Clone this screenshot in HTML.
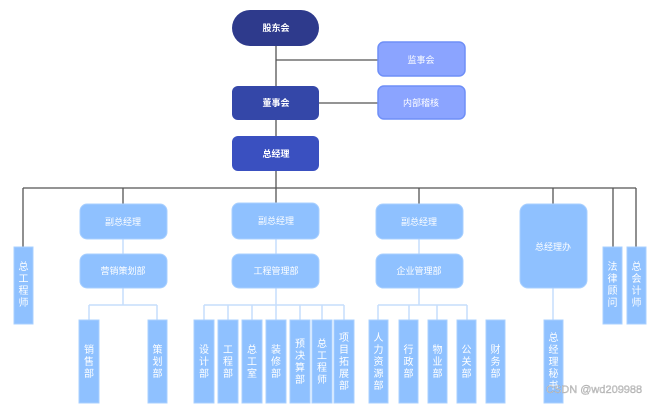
<!DOCTYPE html>
<html><head><meta charset="utf-8"><style>
html,body{margin:0;padding:0;background:#fff;}
svg{display:block;font-family:"Liberation Sans","Noto Sans CJK SC",sans-serif;}
.t{fill:#fff;font-size:9px;text-anchor:middle;dominant-baseline:central;}
.v{fill:#fff;font-size:10px;text-anchor:middle;dominant-baseline:central;}
.lb{fill:#8fc1ff;stroke:#a9d0ff;stroke-width:1;}
</style></head><body>
<svg width="661" height="407" viewBox="0 0 661 407">
<g stroke="#555" stroke-width="1.3" fill="none">
<line x1="276" y1="46" x2="276" y2="136"/>
<line x1="276" y1="60" x2="378" y2="60"/>
<line x1="319" y1="103" x2="378" y2="103"/>
<line x1="276" y1="171" x2="276" y2="188"/>
<line x1="23" y1="188" x2="636" y2="188"/>
<line x1="23" y1="188" x2="23" y2="247"/>
<line x1="123" y1="188" x2="123" y2="204"/>
<line x1="276" y1="188" x2="276" y2="203"/>
<line x1="419" y1="188" x2="419" y2="204"/>
<line x1="553" y1="188" x2="553" y2="204"/>
<line x1="613" y1="188" x2="613" y2="247"/>
<line x1="636" y1="188" x2="636" y2="247"/>
</g>
<g stroke="#c6defc" stroke-width="1.5" fill="none">
<line x1="123" y1="239" x2="123" y2="254"/>
<line x1="276" y1="239" x2="276" y2="254"/>
<line x1="419" y1="239" x2="419" y2="254"/>
<line x1="123" y1="288" x2="123" y2="305"/>
<line x1="89" y1="305" x2="157" y2="305"/>
<line x1="89" y1="305" x2="89" y2="320"/><line x1="157" y1="305" x2="157" y2="320"/>
<line x1="276" y1="288" x2="276" y2="305"/>
<line x1="204" y1="305" x2="344" y2="305"/>
<line x1="204" y1="305" x2="204" y2="320"/><line x1="228" y1="305" x2="228" y2="320"/><line x1="252" y1="305" x2="252" y2="320"/><line x1="276" y1="305" x2="276" y2="320"/><line x1="300" y1="305" x2="300" y2="320"/><line x1="322" y1="305" x2="322" y2="320"/><line x1="344" y1="305" x2="344" y2="320"/>
<line x1="419" y1="288" x2="419" y2="305"/>
<line x1="378" y1="305" x2="467" y2="305"/>
<line x1="378" y1="305" x2="378" y2="320"/><line x1="409" y1="305" x2="409" y2="320"/><line x1="437" y1="305" x2="437" y2="320"/><line x1="467" y1="305" x2="467" y2="320"/>
<line x1="553" y1="288" x2="553" y2="320"/>
</g>
<rect x="232" y="10" width="87" height="36" rx="18" fill="#2e3a8c"/>
<text class="t" x="276" y="28" font-weight="bold">股东会</text>
<rect x="232" y="86" width="87" height="34" rx="6" fill="#3447a8"/>
<text class="t" x="276" y="103" font-weight="bold">董事会</text>
<rect x="232" y="136" width="87" height="35" rx="6" fill="#3a50c0"/>
<text class="t" x="276" y="154" font-weight="bold">总经理</text>
<rect x="378" y="42" width="87" height="34" rx="6" fill="#8ba4ff" stroke="#6f8ff7" stroke-width="1.5"/>
<text class="t" x="421" y="60">监事会</text>
<rect x="378" y="86" width="87" height="33" rx="6" fill="#8ba4ff" stroke="#6f8ff7" stroke-width="1.5"/>
<text class="t" x="421" y="103">内部稽核</text>

<rect class="lb" x="80" y="204" width="87" height="35" rx="7"/><text class="t" x="123" y="222">副总经理</text>
<rect class="lb" x="232" y="203" width="87" height="36" rx="7"/><text class="t" x="276" y="221">副总经理</text>
<rect class="lb" x="376" y="204" width="87" height="35" rx="7"/><text class="t" x="419" y="222">副总经理</text>
<rect class="lb" x="80" y="254" width="87" height="34" rx="7"/><text class="t" x="123" y="271">营销策划部</text>
<rect class="lb" x="232" y="254" width="87" height="34" rx="7"/><text class="t" x="276" y="271">工程管理部</text>
<rect class="lb" x="376" y="254" width="87" height="34" rx="7"/><text class="t" x="419" y="271">企业管理部</text>
<rect class="lb" x="520" y="204" width="67" height="84" rx="8"/><text class="t" x="553" y="247">总经理办</text>

<rect class="lb" x="14" y="247" width="19" height="77"/>
<text class="v" x="23.5"><tspan x="23.5" y="267">总</tspan><tspan x="23.5" y="279">工</tspan><tspan x="23.5" y="291">程</tspan><tspan x="23.5" y="303">师</tspan></text>
<rect class="lb" x="603" y="247" width="19" height="77"/>
<text class="v"><tspan x="612.5" y="267">法</tspan><tspan x="612.5" y="279">律</tspan><tspan x="612.5" y="291">顾</tspan><tspan x="612.5" y="303">问</tspan></text>
<rect class="lb" x="627" y="247" width="19" height="77"/>
<text class="v"><tspan x="636.5" y="267">总</tspan><tspan x="636.5" y="279">会</tspan><tspan x="636.5" y="291">计</tspan><tspan x="636.5" y="303">师</tspan></text>

<rect class="lb" x="79" y="320" width="20" height="83"/>
<text class="v"><tspan x="89" y="350">销</tspan><tspan x="89" y="362">售</tspan><tspan x="89" y="374">部</tspan></text>
<rect class="lb" x="148" y="320" width="19" height="83"/>
<text class="v"><tspan x="157.5" y="350">策</tspan><tspan x="157.5" y="362">划</tspan><tspan x="157.5" y="374">部</tspan></text>

<rect class="lb" x="194" y="320" width="20" height="83"/>
<text class="v"><tspan x="204" y="350">设</tspan><tspan x="204" y="362">计</tspan><tspan x="204" y="374">部</tspan></text>
<rect class="lb" x="218" y="320" width="20" height="83"/>
<text class="v"><tspan x="228" y="350">工</tspan><tspan x="228" y="362">程</tspan><tspan x="228" y="374">部</tspan></text>
<rect class="lb" x="242" y="320" width="20" height="83"/>
<text class="v"><tspan x="252" y="350">总</tspan><tspan x="252" y="362">工</tspan><tspan x="252" y="374">室</tspan></text>
<rect class="lb" x="266" y="320" width="20" height="83"/>
<text class="v"><tspan x="276" y="350">装</tspan><tspan x="276" y="362">修</tspan><tspan x="276" y="374">部</tspan></text>
<rect class="lb" x="290" y="320" width="20" height="83"/>
<text class="v"><tspan x="300" y="344">预</tspan><tspan x="300" y="356">决</tspan><tspan x="300" y="368">算</tspan><tspan x="300" y="380">部</tspan></text>
<rect class="lb" x="312" y="320" width="20" height="83"/>
<text class="v"><tspan x="322" y="344">总</tspan><tspan x="322" y="356">工</tspan><tspan x="322" y="368">程</tspan><tspan x="322" y="380">师</tspan></text>
<rect class="lb" x="334" y="320" width="20" height="83"/>
<text class="v"><tspan x="344" y="338">项</tspan><tspan x="344" y="350">目</tspan><tspan x="344" y="362">拓</tspan><tspan x="344" y="374">展</tspan><tspan x="344" y="386">部</tspan></text>

<rect class="lb" x="369" y="320" width="19" height="83"/>
<text class="v"><tspan x="378.5" y="338">人</tspan><tspan x="378.5" y="350">力</tspan><tspan x="378.5" y="362">资</tspan><tspan x="378.5" y="374">源</tspan><tspan x="378.5" y="386">部</tspan></text>
<rect class="lb" x="399" y="320" width="19" height="83"/>
<text class="v"><tspan x="408.5" y="350">行</tspan><tspan x="408.5" y="362">政</tspan><tspan x="408.5" y="374">部</tspan></text>
<rect class="lb" x="428" y="320" width="19" height="83"/>
<text class="v"><tspan x="437.5" y="350">物</tspan><tspan x="437.5" y="362">业</tspan><tspan x="437.5" y="374">部</tspan></text>
<rect class="lb" x="457" y="320" width="19" height="83"/>
<text class="v"><tspan x="466.5" y="350">公</tspan><tspan x="466.5" y="362">关</tspan><tspan x="466.5" y="374">部</tspan></text>
<rect class="lb" x="486" y="320" width="19" height="83"/>
<text class="v"><tspan x="495.5" y="350">财</tspan><tspan x="495.5" y="362">务</tspan><tspan x="495.5" y="374">部</tspan></text>
<rect class="lb" x="544" y="320" width="19" height="83"/>
<text class="v"><tspan x="553.5" y="338">总</tspan><tspan x="553.5" y="350">经</tspan><tspan x="553.5" y="362">理</tspan><tspan x="553.5" y="374">秘</tspan><tspan x="553.5" y="386">书</tspan></text>

<text x="546" y="393" font-size="11" fill="#d6d6d6" stroke="#999" stroke-width="0.3">CSDN @wd209988</text>
</svg>
</body></html>
